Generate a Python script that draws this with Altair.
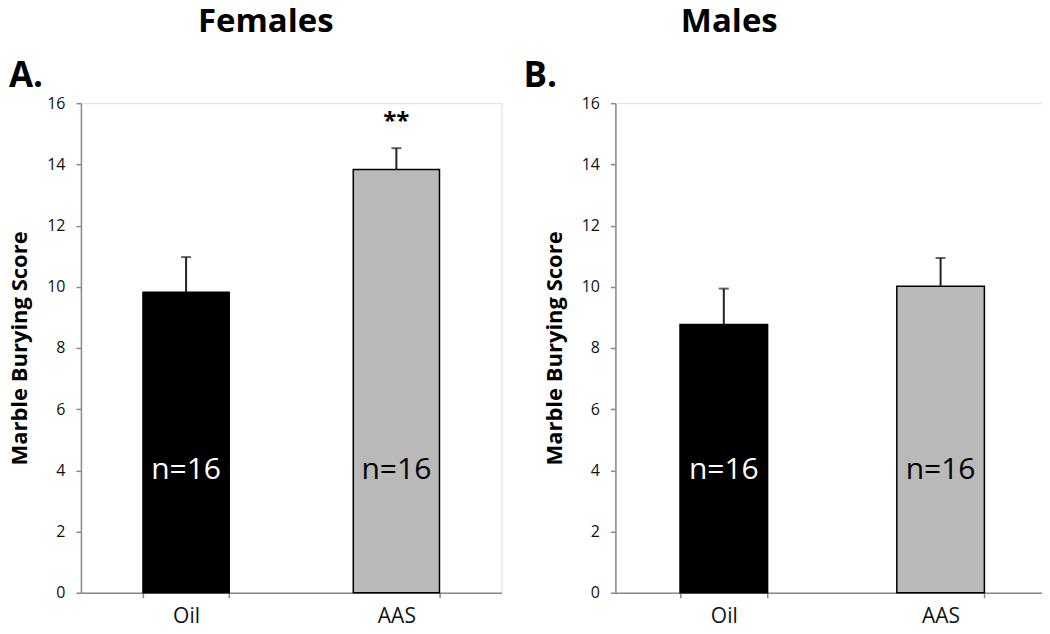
import altair as alt
import pandas as pd

# ---- data ----
groups = ["Oil", "AAS"]
female_means = [9.82, 13.83]
female_err = [1.15, 0.70]
male_means = [8.77, 10.02]
male_err = [1.17, 0.92]
n_labels = ["n=16", "n=16"]
female_sig = ["", "**"]
male_sig = ["", ""]
y_ticks = [0, 2, 4, 6, 8, 10, 12, 14, 16]

FONT = "Open Sans"
AXIS_GRAY = "#8a8a8a"
PATTERN_GRAY = "#b9b9b9"
PLOT_H = 490


def panel(means, errs, sig, title, letter, width, title_x, letter_x, pad_inner, pad_outer):
    uppers = [m + e for m, e in zip(means, errs)]
    df = pd.DataFrame({
        "group": groups,
        "mean": means,
        "upper": uppers,
        "nlabel": n_labels,
        "sig": sig,
        "labely": [4.0, 4.0],
        "sigy": [u + 0.64 if s else 0 for u, s in zip(uppers, sig)],
    })
    base = alt.Chart(df)
    x = alt.X(
        "group:N",
        sort=groups,
        scale=alt.Scale(paddingInner=pad_inner, paddingOuter=pad_outer),
        axis=alt.Axis(
            title=None, labelAngle=0, labelFont=FONT, labelFontSize=21, labelColor="#111",
            domainColor=AXIS_GRAY, domainWidth=1.5, tickColor=AXIS_GRAY, tickWidth=1.5,
            tickSize=5, tickBand="extent", labelPadding=8,
        ),
    )
    y = alt.Y(
        "mean:Q",
        scale=alt.Scale(domain=[0, 16], nice=False),
        axis=alt.Axis(
            title="Marble Burying Score", titleFont=FONT, titleFontSize=22, titleFontWeight="bold",
            titleColor="#000", titlePadding=15, values=y_ticks, grid=False,
            labelFont=FONT, labelFontSize=16, labelColor="#111", labelPadding=11,
            domainColor=AXIS_GRAY, domainWidth=1.5, tickColor=AXIS_GRAY, tickWidth=1.5, tickSize=5,
        ),
    )
    bars = base.mark_bar(stroke="#000", strokeWidth=1.5).encode(
        x=x,
        y=y,
        fill=alt.condition(alt.datum.group == "Oil", alt.value("#000000"), alt.value(PATTERN_GRAY)),
    )
    err = base.mark_rule(color="#222", strokeWidth=2).encode(
        x=alt.X("group:N", sort=groups), y="mean:Q", y2="upper:Q"
    )
    cap = base.mark_tick(color="#222", thickness=2, size=10).encode(
        x=alt.X("group:N", sort=groups), y="upper:Q"
    )
    ntext = base.mark_text(font=FONT, fontSize=30, baseline="middle", align="center").encode(
        x=alt.X("group:N", sort=groups),
        y="labely:Q",
        text="nlabel:N",
        color=alt.condition(alt.datum.group == "Oil", alt.value("#ffffff"), alt.value("#000000")),
    )
    stars = base.mark_text(font=FONT, fontSize=24, fontWeight="bold", baseline="alphabetic",
                           align="center", color="#000").encode(
        x=alt.X("group:N", sort=groups),
        y="sigy:Q",
        text="sig:N",
    )
    tdf = pd.DataFrame({"t": [title]})
    ttl = alt.Chart(tdf).mark_text(font=FONT, fontSize=33, fontWeight="bold", align="center",
                                   baseline="alphabetic", color="#000").encode(
        x=alt.value(title_x), y=alt.value(-71), text="t:N"
    )
    ldf = pd.DataFrame({"t": [letter]})
    let = alt.Chart(ldf).mark_text(font=FONT, fontSize=35, fontWeight="bold", align="left",
                                   baseline="alphabetic", color="#000").encode(
        x=alt.value(letter_x), y=alt.value(-16), text="t:N"
    )
    return alt.layer(bars, err, cap, ntext, stars, ttl, let).properties(width=width, height=PLOT_H)


left = panel(female_means, female_err, female_sig, "Females", "A.", 421, 185, -72, 0.59, 0.295)
right = panel(male_means, male_err, male_sig, "Males", "B.", 434, 114, -92, 0.596, 0.298)

chart = alt.hconcat(left, right, spacing=20).properties(
    padding={"left": 0, "top": -3, "right": -8, "bottom": -3},
).configure_view(stroke=None).configure(background="white")

chart.save("out.html", embed_options={"renderer": "svg", "actions": False})
